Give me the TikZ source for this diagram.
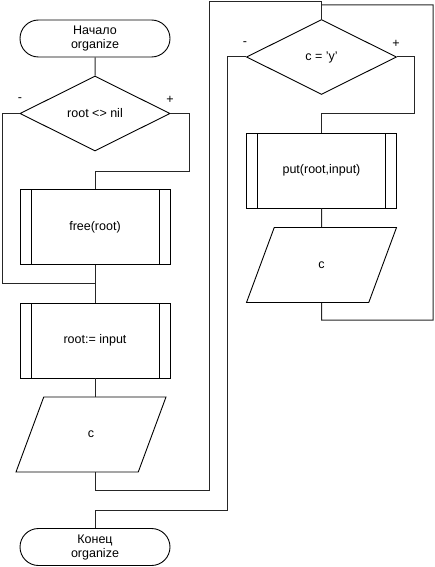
\documentclass[tikz,border=0pt]{standalone}
\usepackage{fontspec}
\setmainfont{Liberation Sans}
\usetikzlibrary{shapes.geometric,shapes.misc}

\begin{document}
\begin{tikzpicture}[
  x=1pt, y=-1pt,            % pixel grid of the reference, y downwards
  every node/.style={font=\fontsize{12.5}{14}\selectfont, inner sep=0pt},
  term/.style={rounded rectangle,draw,line width=0.9pt,minimum width=150pt,minimum height=37pt,align=center},
  decision/.style={diamond,draw,line width=0.9pt,minimum width=150pt,minimum height=75pt},
  subproc/.style={rectangle,draw,line width=0.9pt,minimum width=150pt,minimum height=75pt,
    path picture={
      \draw[line width=0.9pt] ([xshift=11pt]path picture bounding box.north west) -- ([xshift=11pt]path picture bounding box.south west);
      \draw[line width=0.9pt] ([xshift=-11pt]path picture bounding box.north east) -- ([xshift=-11pt]path picture bounding box.south east);
    }},
  io/.style={trapezium,trapezium left angle=75,trapezium right angle=105,trapezium stretches=true,
    draw,line width=0.9pt,minimum width=150pt,minimum height=75pt},
  line/.style={draw,line width=1pt,black!85}
]
\useasboundingbox (0,0) rectangle (435,567);

% --- left column
\node[term]     (begin)  at (95,38.5)   {Начало\\organize};
\node[decision] (d1)     at (95,113.5)  {root <> nil};
\node[subproc]  (free)   at (95,227)    {free(root)};
\node[subproc]  (assign) at (95,340.5)  {root:= input};
\node[io]       (in1)    at (91,434.5)  {c};
\node[term]     (finish) at (95,547)    {Конец\\organize};

% --- right column (loop)
\node[decision] (d2)     at (321.5,57)  {c = 'y'};
\node[subproc]  (put)    at (321.5,170.5) {put(root,input)};
\node[io]       (in2)    at (321.5,265) {c};

% --- branch marks
\node (d1minus) at (20,100)  {-};
\node (d1plus)  at (170,100) {+};
\node (d2minus) at (245,44)  {-};
\node (d2plus)  at (396,44)  {+};

% --- junctions
\coordinate (j0) at (95,171);
\coordinate (j1) at (95,283);
\coordinate (j2) at (95,490);
\coordinate (j3) at (209,2);
\coordinate (j4) at (95,510);
\coordinate (j5) at (321.5,114);
\coordinate (j6) at (321.5,320);
\coordinate (j7) at (433,5);
\coordinate (j8) at (321.5,5);

% ===== connectors =====
\draw[line] (begin) -- (d1);
\draw[line] (d1.west) -- ++(-17,0) |- (j1);
\draw[line] (d1.east) -- ++(19,0) |- (j0) -- (free.north);
\draw[line] (free) -- (assign);
\draw[line] (assign.south) -- (assign.south |- in1.north);
\draw[line] (in1.south -| assign.south) -- (j2) -| (j3) -| (d2.north);
\draw[line] (d2.west) -- ++(-19,0) |- (j4) -- (finish.north);
\draw[line] (d2.east) -- ++(18,0) |- (j5) -- (put.north);
\draw[line] (put) -- (in2);
\draw[line] (in2.south) -- (j6) -| (j7) -- (j8);

\end{tikzpicture}
\end{document}
